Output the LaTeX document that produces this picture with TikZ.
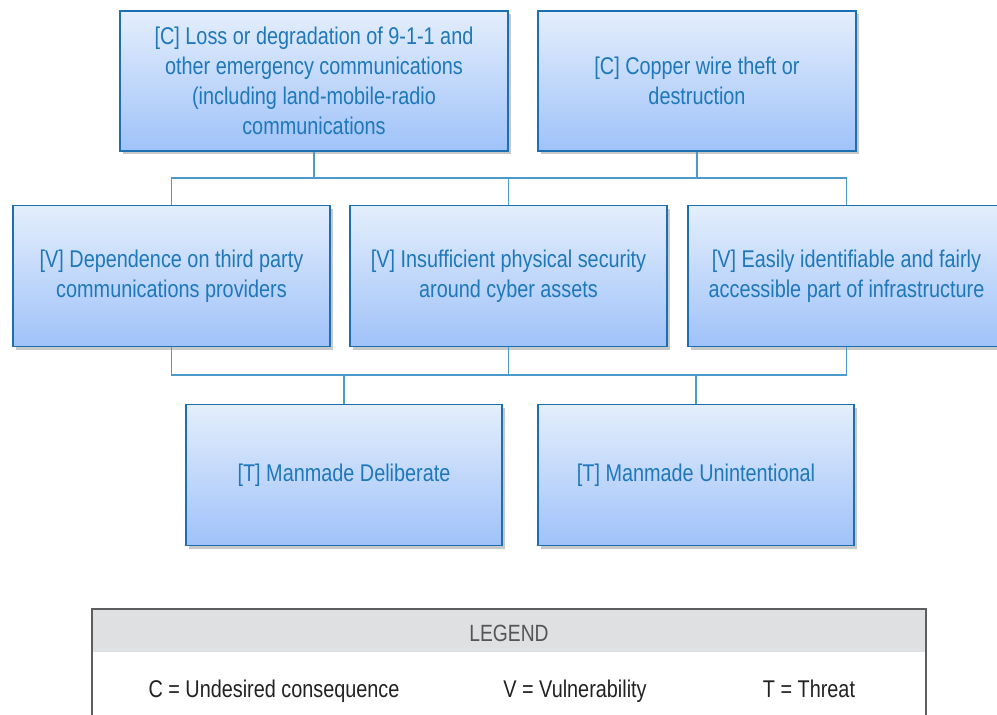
\documentclass[tikz,border=0pt]{standalone}
\usepackage{fontspec}
\setmainfont[FakeStretch=0.82]{Liberation Sans}
\usetikzlibrary{shadows}
\definecolor{boxborder}{HTML}{1C70B2}
\definecolor{boxtext}{HTML}{1E78BA}
\definecolor{boxtop}{HTML}{E4EEFC}
\definecolor{boxbot}{HTML}{9FC2F9}
\definecolor{conn}{HTML}{4C9ACB}
\definecolor{legborder}{HTML}{5E5E5E}
\definecolor{leghead}{HTML}{DFE0E2}
\definecolor{legtitle}{HTML}{555555}
\definecolor{legtext}{HTML}{222222}
\begin{document}
\begin{tikzpicture}[x=1pt,y=1pt,
  cbox/.style={rectangle, draw=boxborder, line width=1.6pt, top color=boxtop, bottom color=boxbot,
    text=boxtext, align=center, inner sep=0pt, font=\fontsize{24.2}{30}\selectfont,
    drop shadow={shadow xshift=2.5pt, shadow yshift=-3pt, opacity=0.3, fill=black!70}},
  conline/.style={draw=conn, line width=1.3pt},
  legtxt/.style={text=legtext, font=\fontsize{24.2}{28}\selectfont, inner sep=0pt, anchor=base}
]
\clip (0,0) rectangle (997,-715);
\fill[white] (0,0) rectangle (997,-715);
% top row
\node[cbox, minimum width=388pt, minimum height=140pt] (t1) at (314,-81)
  {[C] Loss or degradation of 9-1-1 and\\other emergency communications\\(including land-mobile-radio\\communications};
\node[cbox, minimum width=318pt, minimum height=140pt] (t2) at (697,-81)
  {[C] Copper wire theft or\\destruction};
% middle row
\node[cbox, minimum width=317pt, minimum height=141pt] (va) at (171.5,-276)
  {[V] Dependence on third party\\communications providers};
\node[cbox, minimum width=317pt, minimum height=141pt] (vb) at (508.5,-276)
  {[V] Insufficient physical security\\around cyber assets};
\node[cbox, minimum width=317pt, minimum height=141pt] (vc) at (846.5,-276)
  {[V] Easily identifiable and fairly\\accessible part of infrastructure};
% bottom row
\node[cbox, minimum width=316pt, minimum height=141pt] (ta) at (344,-475)
  {[T] Manmade Deliberate};
\node[cbox, minimum width=316pt, minimum height=141pt] (tb) at (696,-475)
  {[T] Manmade Unintentional};
% buses
\coordinate (bus1) at (0,-178);
\coordinate (bus2) at (0,-375);
\draw[conline] (t1.south) -- (t1.south |- bus1);
\draw[conline] (t2.south) -- (t2.south |- bus1);
\draw[conline] (va.north) -- (va.north |- bus1) -- (vc.north |- bus1) -- (vc.north);
\draw[conline] (vb.north) -- (vb.north |- bus1);
\draw[conline] (va.south) -- (va.south |- bus2) -- (vc.south |- bus2) -- (vc.south);
\draw[conline] (vb.south) -- (vb.south |- bus2);
\draw[conline] (ta.north) -- (ta.north |- bus2);
\draw[conline] (tb.north) -- (tb.north |- bus2);
% legend
\fill[leghead] (92,-609) rectangle (926,-652);
\draw[legborder, line width=2pt] (92,-740) -- (92,-609) -- (926,-609) -- (926,-740);
\node[text=legtitle, font=\fontsize{23.5}{26}\selectfont, inner sep=0pt, anchor=base] (legt) at (509,-641) {LEGEND};
\node[legtxt] (lc) at (274,-697) {C = Undesired consequence};
\node[legtxt] (lv) at (575,-697) {V = Vulnerability};
\node[legtxt] (lt) at (809,-697) {T = Threat};
\end{tikzpicture}
\end{document}
